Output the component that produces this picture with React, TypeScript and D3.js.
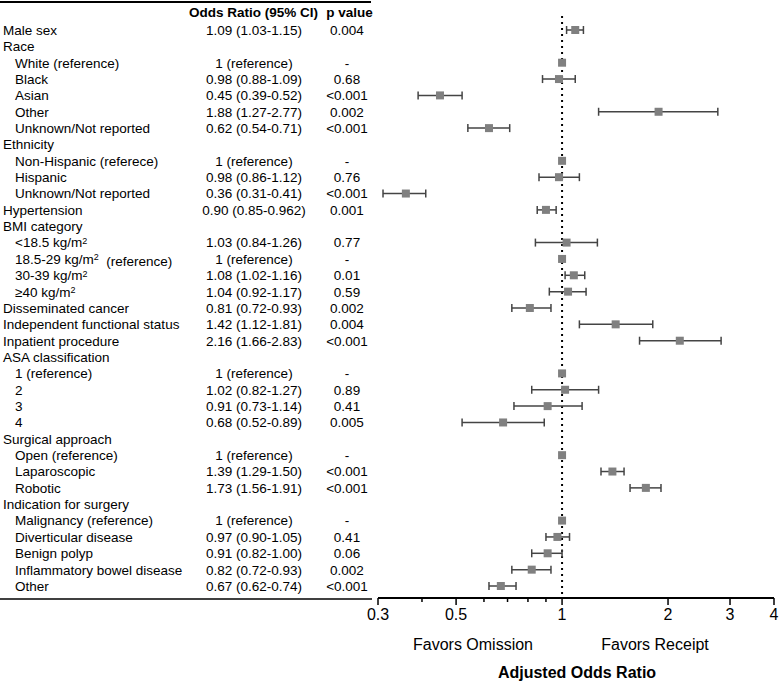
import React from "react";
import * as d3 from "d3";

type Row = { label: string; indent: boolean; or: number | null; lo: number | null; hi: number | null; orText: string; p: string; sup?: string; after?: string };

const labels = ["Male sex","Race","White (reference)","Black","Asian","Other","Unknown/Not reported","Ethnicity","Non-Hispanic (referece)","Hispanic","Unknown/Not reported","Hypertension","BMI category","<18.5 kg/m","18.5-29 kg/m","30-39 kg/m","≥40 kg/m","Disseminated cancer","Independent functional status","Inpatient procedure","ASA classification","1 (reference)","2","3","4","Surgical approach","Open (reference)","Laparoscopic","Robotic","Indication for surgery","Malignancy (reference)","Diverticular disease","Benign polyp","Inflammatory bowel disease","Other"];
const indents = [0,0,1,1,1,1,1,0,1,1,1,0,0,1,1,1,1,0,0,0,0,1,1,1,1,0,1,1,1,0,1,1,1,1,1];
const superscripts = ["","","","","","","","","","","","","","2","2","2","2","","","","","","","","","","","","","","","","","",""];
const suffixes = ["","","","","","","","","","","","","","","  (reference)","","","","","","","","","","","","","","","","","","","",""];
const orValues: (number | null)[] = [1.09,null,1,0.98,0.45,1.88,0.62,null,1,0.98,0.36,0.90,null,1.03,1,1.08,1.04,0.81,1.42,2.16,null,1,1.02,0.91,0.68,null,1,1.39,1.73,null,1,0.97,0.91,0.82,0.67];
const ciLow: (number | null)[] = [1.03,null,null,0.88,0.39,1.27,0.54,null,null,0.86,0.31,0.85,null,0.84,null,1.02,0.92,0.72,1.12,1.66,null,null,0.82,0.73,0.52,null,null,1.29,1.56,null,null,0.90,0.82,0.72,0.62];
const ciHigh: (number | null)[] = [1.15,null,null,1.09,0.52,2.77,0.71,null,null,1.12,0.41,0.962,null,1.26,null,1.16,1.17,0.93,1.81,2.83,null,null,1.27,1.14,0.89,null,null,1.50,1.91,null,null,1.05,1.00,0.93,0.74];
const orTexts = ["1.09 (1.03-1.15)","","1 (reference)","0.98 (0.88-1.09)","0.45 (0.39-0.52)","1.88 (1.27-2.77)","0.62 (0.54-0.71)","","1 (reference)","0.98 (0.86-1.12)","0.36 (0.31-0.41)","0.90 (0.85-0.962)","","1.03 (0.84-1.26)","1 (reference)","1.08 (1.02-1.16)","1.04 (0.92-1.17)","0.81 (0.72-0.93)","1.42 (1.12-1.81)","2.16 (1.66-2.83)","","1 (reference)","1.02 (0.82-1.27)","0.91 (0.73-1.14)","0.68 (0.52-0.89)","","1 (reference)","1.39 (1.29-1.50)","1.73 (1.56-1.91)","","1 (reference)","0.97 (0.90-1.05)","0.91 (0.82-1.00)","0.82 (0.72-0.93)","0.67 (0.62-0.74)"];
const pValues = ["0.004","","-","0.68","<0.001","0.002","<0.001","","-","0.76","<0.001","0.001","","0.77","-","0.01","0.59","0.002","0.004","<0.001","","-","0.89","0.41","0.005","","-","<0.001","<0.001","","-","0.41","0.06","0.002","<0.001"];
const majorTicks = [0.3, 0.5, 1, 2, 3, 4];
const minorTicks = [0.4, 0.6, 0.7, 0.8, 0.9];

const rows: Row[] = labels.map((l, i) => ({
  label: l, indent: indents[i] === 1, or: orValues[i], lo: ciLow[i], hi: ciHigh[i],
  orText: orTexts[i], p: pValues[i], sup: superscripts[i], after: suffixes[i],
}));

const W = 780, H = 682;
const font = "'Liberation Sans', Arial, Helvetica, sans-serif";
const fs = 13.5;

export default function App() {
  const x = d3.scaleLog().domain([0.3, 4]).range([378, 774]);
  const y = d3.scaleLinear().domain([0, rows.length - 1]).range([30, 586]);
  const axisY = 598;
  const markColor = "#808080";
  const barColor = "#444";
  return (
    <svg width={W} height={H} style={{ position: "absolute", left: 0, top: 0 }} fontFamily={font}>
      <rect width={W} height={H} fill="#fff" />
      <line x1={0} x2={371} y1={2} y2={2} stroke="#000" strokeWidth={2} />
      <line x1={0} x2={372} y1={599} y2={599} stroke="#000" strokeWidth={1.5} />
      <text x={253.5} y={17} textAnchor="middle" fontSize={fs} fontWeight="bold">Odds Ratio (95% CI)</text>
      <text x={349.5} y={17} textAnchor="middle" fontSize={fs} fontWeight="bold">p value</text>
      {rows.map((r, i) => (
        <g key={i}>
          <text x={r.indent ? 15 : 3} y={y(i)} dy="0.36em" fontSize={fs}>
            {r.label}
            {r.sup ? <tspan dy="-0.4em" fontSize={9}>{r.sup}</tspan> : null}
            {r.sup && r.after ? <tspan dy="0.4em" style={{ whiteSpace: "pre" }}>{r.after}</tspan> : null}
          </text>
          <text x={254} y={y(i)} dy="0.36em" textAnchor="middle" fontSize={fs}>{r.orText}</text>
          <text x={347} y={y(i)} dy="0.36em" textAnchor="middle" fontSize={fs}>{r.p}</text>
        </g>
      ))}
      <line x1={x(1)} x2={x(1)} y1={16} y2={axisY} stroke="#000" strokeWidth={2} strokeDasharray="2,4" />
      {rows.map((r, i) => r.or == null ? null : (
        <g key={"m" + i}>
          {r.lo != null && r.hi != null ? (
            <g stroke={barColor} strokeWidth={1.5}>
              <line x1={x(r.lo)} x2={x(r.hi)} y1={y(i)} y2={y(i)} />
              <line x1={x(r.lo)} x2={x(r.lo)} y1={y(i) - 4} y2={y(i) + 4} />
              <line x1={x(r.hi)} x2={x(r.hi)} y1={y(i) - 4} y2={y(i) + 4} />
            </g>
          ) : null}
          <rect x={x(r.or) - 4} y={y(i) - 4} width={8} height={8} fill={markColor} />
        </g>
      ))}
      <line x1={x(0.3)} x2={x(4)} y1={axisY} y2={axisY} stroke="#000" strokeWidth={2} />
      {majorTicks.map(t => (
        <g key={"t" + t}>
          <line x1={x(t)} x2={x(t)} y1={axisY} y2={axisY + 7} stroke="#000" strokeWidth={1.5} />
          <text x={x(t)} y={axisY + 22} textAnchor="middle" fontSize={16}>{String(t)}</text>
        </g>
      ))}
      {minorTicks.map(t => (
        <line key={"n" + t} x1={x(t)} x2={x(t)} y1={axisY} y2={axisY + 4} stroke="#000" strokeWidth={1.5} />
      ))}
      <text x={473} y={650} textAnchor="middle" fontSize={16}>Favors Omission</text>
      <text x={655} y={650} textAnchor="middle" fontSize={16}>Favors Receipt</text>
      <text x={577} y={678} textAnchor="middle" fontSize={16} fontWeight="bold">Adjusted Odds Ratio</text>
    </svg>
  );
}
